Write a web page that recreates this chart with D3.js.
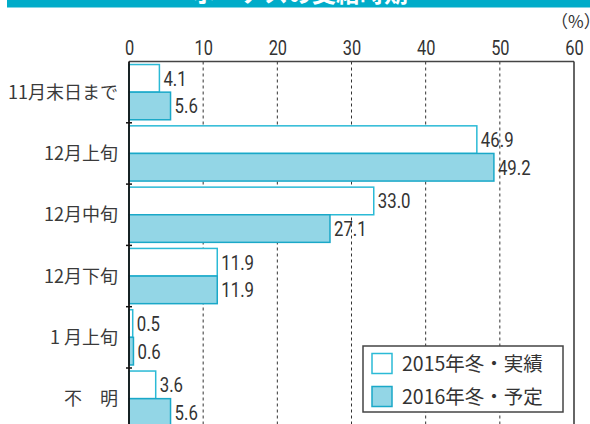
<!DOCTYPE html>
<html>
<head>
<meta charset="utf-8">
<script src="https://cdn.jsdelivr.net/npm/d3@7"></script>
<style>
  body { margin: 0; background: #fff; }
  svg { display: block; }
  .num { font-family: "Roboto", "Liberation Sans", sans-serif; }
  .jp { font-family: "Noto Sans CJK JP", sans-serif; }
</style>
</head>
<body>
<svg id="chart"></svg>
<script>
// chart data
const categories = ["11月末日まで", "12月上旬", "12月中旬", "12月下旬", "1 月上旬", "不　明"];
const seriesNames = ["2015年冬・実績", "2016年冬・予定"];
const values2015 = [4.1, 46.9, 33.0, 11.9, 0.5, 3.6];
const values2016 = [5.6, 49.2, 27.1, 11.9, 0.6, 5.6];
const xTicks = [0, 10, 20, 30, 40, 50, 60];

const W = 590, H = 424;
const margin = {top: 61.5, left: 129, right: 16};
const bandH = 61.3;
const narrow = 0.82; // the source uses a condensed face for numbers

const svg = d3.select('#chart').attr('width', W).attr('height', H);

// header strip (title is cropped in the source)
svg.append('rect').attr('x', 7).attr('y', 0).attr('width', W - 7).attr('height', 7.5)
    .attr('fill', '#00acc9');
svg.append('text').attr('class', 'jp')
    .attr('x', 300).attr('y', 1.5)
    .attr('text-anchor', 'middle')
    .attr('font-size', 24).attr('font-weight', 'bold')
    .attr('fill', '#fff')
    .text('ボーナスの支給時期');

const x = d3.scaleLinear().domain([0, 60]).range([margin.left, W - margin.right]);
const y = d3.scaleBand().domain(categories)
    .range([margin.top, margin.top + bandH * categories.length]);
const ySub = d3.scaleBand().domain(seriesNames).range([0, bandH]).paddingOuter(0.11).paddingInner(0);

const data = categories.map((c, i) => ({cat: c, vals: [values2015[i], values2016[i]]}));

// dashed grid
svg.append('g').selectAll('line')
    .data(xTicks.filter(t => t > 0 && t < 60))
    .join('line')
    .attr('x1', d => x(d)).attr('x2', d => x(d))
    .attr('y1', margin.top).attr('y2', H)
    .attr('stroke', '#333').attr('stroke-width', 1)
    .attr('stroke-dasharray', '3,3');

// frame top + right
svg.append('line').attr('x1', x(0)).attr('x2', x(60))
    .attr('y1', margin.top).attr('y2', margin.top)
    .attr('stroke', '#444').attr('stroke-width', 1.5);
svg.append('line').attr('x1', x(60)).attr('x2', x(60))
    .attr('y1', margin.top).attr('y2', H)
    .attr('stroke', '#333').attr('stroke-width', 1.5);

// top axis labels
const xAxis = d3.axisTop(x).tickValues(xTicks).tickSize(0).tickPadding(0);
const xAxisG = svg.append('g').attr('transform', `translate(0,${margin.top - 7})`).call(xAxis);
xAxisG.select('.domain').remove();
xAxisG.selectAll('text')
    .attr('class', 'num').attr('font-size', 20).attr('fill', '#333')
    .attr('transform', `scale(${narrow},1)`);

svg.append('text').attr('class', 'jp')
    .attr('x', 551).attr('y', 28)
    .attr('font-size', 17).attr('fill', '#333')
    .text('（%）');

// bars
const groups = svg.append('g').selectAll('g')
    .data(data)
    .join('g')
    .attr('transform', d => `translate(0,${y(d.cat)})`);

const fills = ['#ffffff', '#93d6e6'];
const strokes = ['#2bbad6', '#1aa8c8'];

groups.selectAll('rect')
    .data(d => d.vals.map((v, k) => ({v, k})))
    .join('rect')
    .attr('x', x(0))
    .attr('y', d => ySub(seriesNames[d.k]))
    .attr('width', d => x(d.v) - x(0))
    .attr('height', ySub.bandwidth())
    .attr('fill', d => fills[d.k])
    .attr('stroke', d => strokes[d.k])
    .attr('stroke-width', 1.5);

groups.selectAll('text')
    .data(d => d.vals.map((v, k) => ({v, k})))
    .join('text')
    .attr('class', 'num')
    .attr('transform', d => `translate(${x(d.v) + 4},${ySub(seriesNames[d.k]) + ySub.bandwidth() / 2}) scale(${narrow},1)`)
    .attr('dy', '0.36em')
    .attr('font-size', 20.5).attr('fill', '#333')
    .text(d => d.v.toFixed(1));

// left axis with boundary ticks
const yAxisG = svg.append('g');
yAxisG.append('line').attr('x1', x(0)).attr('x2', x(0))
    .attr('y1', margin.top).attr('y2', H)
    .attr('stroke', '#111').attr('stroke-width', 1.8);
yAxisG.selectAll('.bt')
    .data(categories.slice(1))
    .join('line')
    .attr('class', 'bt')
    .attr('x1', x(0) - 3).attr('x2', x(0) + 3)
    .attr('y1', d => y(d)).attr('y2', d => y(d))
    .attr('stroke', '#111').attr('stroke-width', 1.5);
yAxisG.selectAll('text')
    .data(categories)
    .join('text')
    .attr('class', 'jp')
    .attr('x', 118)
    .attr('y', d => y(d) + bandH / 2)
    .attr('dy', '0.36em')
    .attr('text-anchor', 'end')
    .attr('font-size', 18).attr('fill', '#3a3a3a')
    .text(d => d);

// legend
const lg = svg.append('g').attr('transform', 'translate(363,346)');
lg.append('rect').attr('width', 200).attr('height', 66)
    .attr('fill', '#fff').attr('stroke', '#444').attr('stroke-width', 1.5);
seriesNames.forEach((s, k) => {
    lg.append('rect').attr('x', 9).attr('y', 7.5 + k * 33)
        .attr('width', 20).attr('height', 20)
        .attr('fill', fills[k]).attr('stroke', strokes[k]).attr('stroke-width', 1.5);
    lg.append('text').attr('class', 'jp')
        .attr('x', 39).attr('y', 17.5 + k * 33)
        .attr('dy', '0.36em')
        .attr('font-size', 19.5).attr('fill', '#333')
        .text(s);
});
</script>
</body>
</html>
